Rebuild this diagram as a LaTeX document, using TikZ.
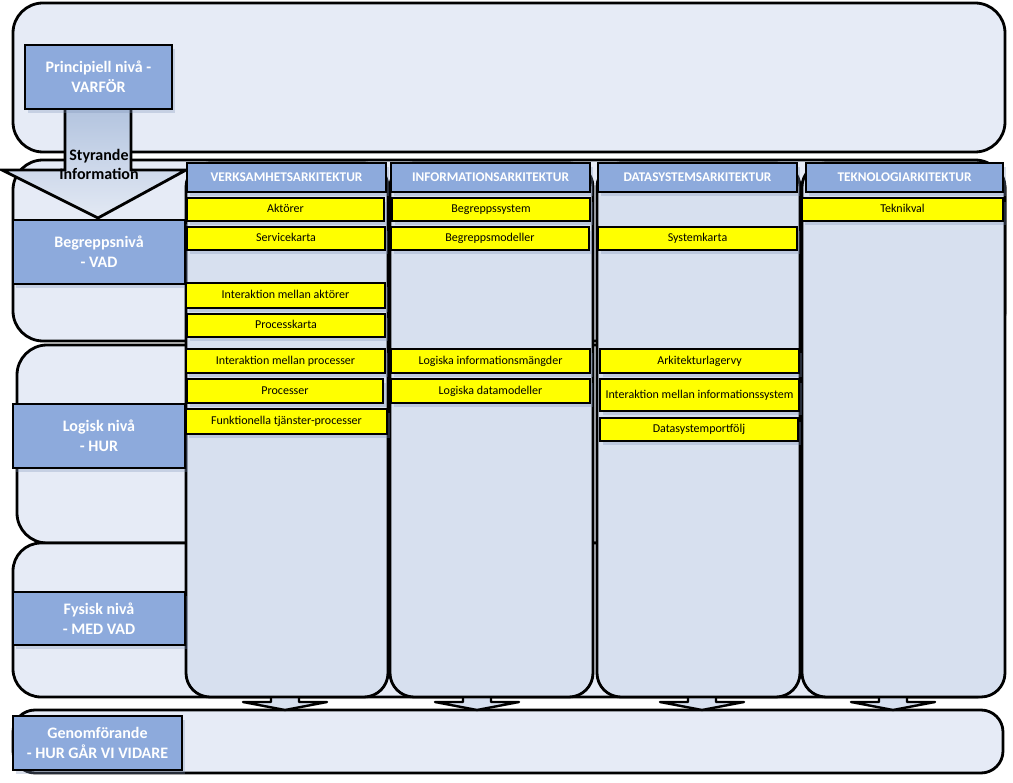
\documentclass[tikz,border=0pt]{standalone}
\usepackage{fontspec}
\setmainfont{Carlito}
\usetikzlibrary{shadows}
\definecolor{bandfill}{HTML}{E6EBF6}
\definecolor{colfill}{HTML}{D7E0EF}
\definecolor{lblblue}{HTML}{8DAADC}
\definecolor{yel}{HTML}{FFFF00}
\definecolor{arrtop}{HTML}{B3C4DF}
\definecolor{arrbot}{HTML}{E3E9F4}
\definecolor{shadowc}{HTML}{7F93B8}
\newcommand\rbox[7]{%
  \pgfmathsetmacro\bxw{#5-#3}%
  \pgfmathsetmacro\bxh{#6-#4}%
  \node[#2,minimum width=\bxw pt,minimum height=\bxh pt,inner sep=0pt,outer sep=0pt] (#1) at ({(#3+#5)/2},{(#4+#6)/2}) {#7};}
\begin{document}
\begin{tikzpicture}[x=1pt,y=-1pt,
  band/.style={draw=black,line width=2.8pt,fill=bandfill,rectangle},
  col/.style={draw=black,line width=2.8pt,fill=colfill,rectangle,rounded corners=24pt},
  softshadow/.style={drop shadow={shadow xshift=3pt,shadow yshift=-4pt,opacity=0.3,fill=shadowc}},
  lbl/.style={draw=black,line width=2.8pt,fill=lblblue,text=white,rectangle,softshadow,
    font=\bfseries\fontsize{16}{20}\selectfont,align=center},
  hdr/.style={draw=black,line width=2.8pt,fill=lblblue,text=white,rectangle,softshadow,
    font=\bfseries\fontsize{13.3}{15}\selectfont,text height=8.6pt,text depth=0pt},
  ybox/.style={draw=black,line width=2.8pt,fill=yel,rectangle,softshadow,
    font=\fontsize{12}{14}\selectfont,text height=8.2pt,text depth=2pt},
  blockarrow/.style={draw=black,line width=2.8pt,top color=arrtop,bottom color=arrbot,line join=miter},
  smallarrow/.style={draw=black,line width=2.4pt,fill=colfill,line join=round}]
\useasboundingbox (0,0) rectangle (1013,783);
\fill[white] (0,0) rectangle (1013,783);
% bands
\rbox{b1}{band,rounded corners=30pt}{13}{3}{1005}{152}{}
\rbox{b2}{band,rounded corners=30pt}{13}{160}{1005}{341}{}
\rbox{b3}{band,rounded corners=30pt}{17}{345}{1003}{543}{}
\rbox{b4}{band,rounded corners=28pt}{13}{543}{1003}{697}{}
\rbox{b5}{band,rounded corners=22pt}{13}{710}{1003}{773}{}
% small arrows under the columns
\foreach \cx in {285,477,702,893}{
  \draw[smallarrow] (\cx-14,685) -- (\cx-14,702) -- (\cx-42,702) -- (\cx,710)
    -- (\cx+42,702) -- (\cx+14,702) -- (\cx+14,685);
}
% columns
\rbox{c1}{col}{186}{163}{388}{697}{}
\rbox{c2}{col}{390}{163}{593}{697}{}
\rbox{c3}{col}{597}{163}{800}{697}{}
\rbox{c4}{col}{802}{163}{1005}{697}{}
% styrande arrow
\draw[blockarrow] (65,109) -- (65,170) -- (2,170) -- (98,218) -- (186,170) -- (131,170) -- (131,109);
\node[font=\bfseries\fontsize{16}{19}\selectfont,align=center,inner sep=0pt] (styr) at (99,164) {Styrande\\Information};
% level labels
\rbox{pn}{lbl}{25}{45}{172}{109}{Principiell nivå -\\VARFÖR}
\rbox{bn}{lbl}{13}{220}{185}{284}{Begreppsnivå\\- VAD}
\rbox{ln}{lbl}{13}{404}{185}{468}{Logisk nivå\\- HUR}
\rbox{fn}{lbl}{13}{592}{185}{645}{Fysisk nivå\\- MED VAD}
\rbox{gn}{lbl}{13}{716}{182}{770}{Genomförande\\- HUR GÅR VI VIDARE}
% headers
\rbox{h1}{hdr}{187}{163}{386}{192}{VERKSAMHETSARKITEKTUR}
\rbox{h2}{hdr}{391}{163}{590}{192}{INFORMATIONSARKITEKTUR}
\rbox{h3}{hdr}{598}{163}{797}{192}{DATASYSTEMSARKITEKTUR}
\rbox{h4}{hdr}{806}{163}{1003}{192}{TEKNOLOGIARKITEKTUR}
% column 1
\rbox{y11}{ybox}{187}{198}{384}{221}{Aktörer}
\rbox{y12}{ybox}{187}{227}{385}{250}{Servicekarta}
\rbox{y13}{ybox}{186}{283}{385}{308}{Interaktion mellan aktörer}
\rbox{y14}{ybox}{187}{314}{385}{337}{Processkarta}
\rbox{y15}{ybox}{186}{349}{385}{373}{Interaktion mellan processer}
\rbox{y16}{ybox}{187}{379}{383}{403}{Processer}
\rbox{y17}{ybox}{186}{409}{387}{434}{Funktionella tjänster-processer}
% column 2
\rbox{y21}{ybox}{392}{198}{590}{221}{Begreppssystem}
\rbox{y22}{ybox}{391}{227}{589}{250}{Begreppsmodeller}
\rbox{y23}{ybox}{391}{349}{590}{373}{Logiska informationsmängder}
\rbox{y24}{ybox}{391}{379}{590}{403}{Logiska datamodeller}
% column 3
\rbox{y31}{ybox}{598}{227}{797}{250}{Systemkarta}
\rbox{y32}{ybox}{600}{349}{799}{373}{Arkitekturlagervy}
\rbox{y33}{ybox}{600}{379}{799}{411}{Interaktion mellan informationssystem}
\rbox{y34}{ybox}{600}{418}{798}{441}{Datasystemportfölj}
% column 4
\rbox{y41}{ybox}{802}{198}{1003}{221}{Teknikval}
\end{tikzpicture}
\end{document}
